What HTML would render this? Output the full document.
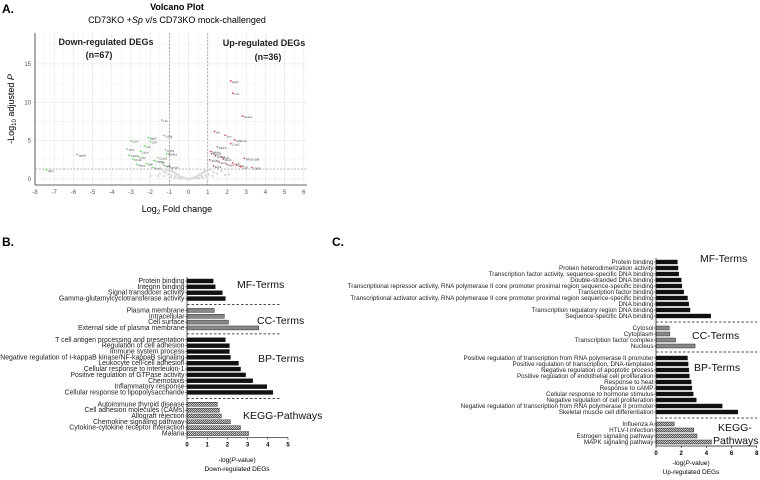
<!DOCTYPE html>
<html><head><meta charset="utf-8"><style>
body{margin:0;background:#fff}
svg{display:block;font-family:"Liberation Sans",Arial,sans-serif}
</style></head><body>
<svg id="fig" width="760" height="480" viewBox="0 0 760 480" xmlns="http://www.w3.org/2000/svg">
<g id="volc"></g>
<g id="panB"></g>
<g id="panC"></g>
</svg>
<script>
// ---- Volcano data ----
const upGenes=["Egr1","Fos","Dusp1","Hlx","Jun","Cdkn1a","Cxcl1","Slc16","Rbm3","Nr4a2","RP23-208","Zfp36","Ier2","Klf4","Atf3","Egr2","Ccl3","Cd83","Gm1","Ier3","Nfkbiz","Junb"];
const upX=[2.2,2.3,2.8,1.35,1.9,2.4,2.2,1.5,1.2,1.4,2.9,1.1,1.6,2.0,2.5,1.3,2.7,3.3,1.8,2.3,1.15,1.7];
const upY=[12.8,11.2,8.2,6.2,5.7,5.1,4.6,4.2,3.3,3.0,2.7,2.5,2.2,1.9,1.8,1.7,1.6,1.5,2.6,2.1,3.6,2.9];
const downGenes=["Ltb","Cd3g","Nkg7","Ccr7","Cd7","Lck","Tcf7","Ly6d","Igkv8","Ighv","Cd79","Ms4a1","Cd19","Cd2","Klrd1","Gzma","Il7r","Sell","Cd5","Fcer2a","Ptprc","Trbc2","Cxcr5"];
const downX=[-1.4,-1.3,-2.1,-3.0,-2.0,-2.3,-3.2,-2.5,-5.8,-7.4,-1.2,-1.15,-3.1,-2.6,-2.9,-1.8,-1.5,-2.2,-1.3,-1.1,-2.7,-1.9,-1.6];
const downY=[7.7,5.7,5.4,5.0,4.9,4.3,3.9,3.6,3.2,1.2,3.8,3.3,3.1,2.9,2.6,2.4,2.2,2.0,1.8,1.6,1.9,1.5,2.8];
const greyX=[-1.0,-0.9,-0.8,-0.7,-0.6,-0.5,-0.4,-0.3,-0.2,-0.1,0,0.1,0.2,0.3,0.4,0.5,0.6,0.7,0.8,0.9,1.0,-1.2,-1.1,-0.9,-0.7,-0.5,0.5,0.7,0.9,1.1,1.3,-1.5,-1.3,1.5,1.7,-0.95,-0.75,-0.55,0.55,0.75,0.95,-1.6,1.9,-2.0,2.1,-0.85,0.85,-0.65,0.65,-0.35,0.35,-1.05,1.05,-1.25,1.25,-0.45,0.45];
const greyY=[1.3,1.1,0.9,0.8,0.6,0.5,0.3,0.2,0.1,0.05,0,0.05,0.1,0.2,0.3,0.5,0.6,0.8,0.9,1.1,1.3,0.9,1.2,0.5,0.3,0.15,0.15,0.3,0.5,1.2,0.9,0.7,1.0,0.7,1.0,0.2,0.1,0.1,0.1,0.1,0.2,0.4,0.5,0.4,0.6,1.0,1.0,0.5,0.5,0.05,0.05,0.6,0.6,0.4,0.4,0.2,0.2];
const xTicks=[-8,-7,-6,-5,-4,-3,-2,-1,0,1,2,3,4,5,6];
const yTicks=[0,5,10,15];

// ---- Panel B data ----
const bCats=["Protein binding","Integrin binding","Signal transducer activity","Gamma-glutamylcyclotransferase activity","Plasma membrane","Intracellular","Cell surface","External side of plasma membrane","T cell antigen processing and presentation","Regulation of cell adhesion","Immune system process","Negative regulation of I-kappaB kinase/NF-kappaB signaling","Leukocyte cell-cell adhesion","Cellular response to interleukin-1","Positive regulation of GTPase activity","Chemotaxis","Inflammatory response","Cellular response to lipopolysaccharide","Autoimmune thyroid disease","Cell adhesion molecules (CAMs)","Allograft rejection","Chemokine signaling pathway","Cytokine-cytokine receptor interaction","Malaria"];
const bVals=[1.3,1.4,1.75,1.9,1.35,1.85,2.05,3.55,1.9,2.1,2.1,2.15,2.55,2.65,2.9,3.25,3.95,4.25,1.5,1.6,1.7,2.15,2.65,3.05];
const bGroups=[0,0,0,0,1,1,1,1,2,2,2,2,2,2,2,2,2,2,3,3,3,3,3,3];
const bTicks=[0,1,2,3,4,5];
// ---- Panel C data ----
const cCats=["Protein binding","Protein heterodimerization activity","Transcription factor activity, sequence-specific DNA binding","Double-stranded DNA binding","Transcriptional repressor activity, RNA polymerase II core promoter proximal region sequence-specific binding","Transcription factor binding","Transcriptional activator activity, RNA polymerase II core promoter proximal region sequence-specific binding","DNA binding","Transcription regulatory region DNA binding","Sequence-specific DNA binding","Cytosol","Cytoplasm","Transcription factor complex","Nucleus","Positive regulation of transcription from RNA polymerase II promoter","Positive regulation of transcription, DNA-templated","Negative regulation of apoptotic process","Positive regulation of endothelial cell proliferation","Response to heat","Response to cAMP","Cellular response to hormone stimulus","Negative regulation of cell proliferation","Negative regulation of transcription from RNA polymerase II promoter","Skeletal muscle cell differentiation","Influenza A","HTLV-I infection","Estrogen signaling pathway","MAPK signaling pathway"];
const cVals=[1.7,1.75,1.8,2.0,2.05,2.2,2.5,2.6,2.7,4.35,1.05,1.1,1.55,3.1,2.5,2.55,2.6,2.65,2.8,2.85,2.95,3.2,5.25,6.5,1.45,3.0,3.25,4.4];
const cGroups=[0,0,0,0,0,0,0,0,0,0,1,1,1,1,2,2,2,2,2,2,2,2,2,2,3,3,3,3];
const cTicks=[0,2,4,6,8];

const NS="http://www.w3.org/2000/svg";
function mk(parent,tag,attrs,text){const e=document.createElementNS(NS,tag);for(const k in attrs)e.setAttribute(k,attrs[k]);if(text!==undefined)e.textContent=text;parent.appendChild(e);return e;}
const svg=document.getElementById('fig');

let t;
t=mk(svg,'text',{x:2,y:13,'font-size':12,'font-weight':'bold'},'A.');


t=mk(svg,'text',{x:177,y:10,'font-size':9,'font-weight':'bold','text-anchor':'middle'},'Volcano Plot');


t=mk(svg,'text',{x:177,y:23,'font-size':9,'text-anchor':'middle'});


t.innerHTML='CD73KO +<tspan font-style="italic">Sp</tspan> v/s CD73KO mock-challenged';
t=mk(svg,'text',{x:2,y:246,'font-size':12,'font-weight':'bold'},'B.');


t=mk(svg,'text',{x:332,y:246,'font-size':12,'font-weight':'bold'},'C.');



// ---- Volcano ----
const V=document.getElementById('volc');
const vx=v=>35+(v+8)*19.2, vy=v=>179-v*7.67;
for(let g=-8;g<=6;g+=0.5){const l=mk(V,'line',{x1:vx(g),x2:vx(g),y1:33,y2:185,stroke:g%1===0?'#e4e4e4':'#f0f0f0','stroke-width':0.6});

}
for(let g=0;g<=17.5;g+=2.5){const l=mk(V,'line',{x1:35,x2:307,y1:vy(g),y2:vy(g),stroke:g%5===0?'#e4e4e4':'#f0f0f0','stroke-width':0.6});

}
let ax=mk(V,'line',{x1:35,x2:35,y1:33,y2:185,stroke:'#333','stroke-width':0.8});


ax=mk(V,'line',{x1:35,x2:307,y1:185,y2:185,stroke:'#333','stroke-width':0.8});


xTicks.forEach(v=>{const tk=mk(V,'text',{x:vx(v),y:194,'font-size':6,fill:'#555','text-anchor':'middle'},String(v));

});
yTicks.forEach(v=>{const tk=mk(V,'text',{x:31,y:vy(v)+2,'font-size':6,fill:'#555','text-anchor':'end'},String(v));

});
[-1,1].forEach(v=>{const l=mk(V,'line',{x1:vx(v),x2:vx(v),y1:33,y2:185,stroke:'#666','stroke-width':0.5,'stroke-dasharray':'2,1.5'});

});
let hl=mk(V,'line',{x1:35,x2:307,y1:vy(1.3),y2:vy(1.3),stroke:'#666','stroke-width':0.5,'stroke-dasharray':'2,1.5'});


greyX.forEach((x,i)=>{const c=mk(V,'circle',{cx:vx(x),cy:vy(greyY[i]),r:1.3,fill:'#dcdcdc'});

});
downX.forEach((x,i)=>{const c=mk(V,'circle',{cx:vx(x),cy:vy(downY[i]),r:0.8,fill:'#3ddc3d'});


const l=mk(V,'text',{x:vx(x)+1.5,y:vy(downY[i])+2,'font-size':3,fill:'#444'},downGenes[i]);

});
upX.forEach((x,i)=>{const c=mk(V,'circle',{cx:vx(x),cy:vy(upY[i]),r:0.8,fill:'#e03030'});


const l=mk(V,'text',{x:vx(x)+1.5,y:vy(upY[i])+2,'font-size':3,fill:'#444'},upGenes[i]);

});
[['Down-regulated DEGs',106,45],['(n=67)',99,58],['Up-regulated DEGs',264,46],['(n=36)',268,60]].forEach(a=>{const l=mk(V,'text',{x:a[1],y:a[2],'font-size':9,'font-weight':'bold','text-anchor':'middle',fill:'#222'},a[0]);

});
let xl=mk(V,'text',{x:177,y:212,'font-size':9,'text-anchor':'middle'});


xl.innerHTML='Log<tspan font-size="6" dy="2">2</tspan><tspan dy="-2"> Fold change</tspan>';
let yl=mk(V,'text',{x:0,y:0,'font-size':9,'text-anchor':'middle',transform:'translate(14,109) rotate(-90)'});


yl.innerHTML='-Log<tspan font-size="6" dy="2">10</tspan><tspan dy="-2"> adjusted </tspan><tspan font-style="italic">P</tspan>';

const defs=mk(svg,'defs',{});
const pat=mk(defs,'pattern',{id:'hatch',width:2,height:2,patternUnits:'userSpaceOnUse'});
mk(pat,'rect',{width:2,height:2,fill:'#ddd'});
mk(pat,'path',{d:'M0,2 L2,0',stroke:'#333','stroke-width':0.7});

function barPanel(G,cats,vals,groups,ticks,o){
  const sx=v=>o.x0+v*o.ppu;
  const rowY=[];let y=o.y0;
  cats.forEach((c,i)=>{if(i>0&&groups[i]!==groups[i-1])y+=o.gap;rowY.push(y);y+=o.step;});
  const fills=['#111','#888','#111','url(#hatch)'];
  cats.forEach((c,i)=>{
    const r=mk(G,'rect',{x:sx(0),y:rowY[i]-2,width:sx(vals[i])-sx(0),height:4,fill:fills[groups[i]],stroke:'#111','stroke-width':0.4});
    
    
    const tk=mk(G,'line',{x1:sx(0)-2,x2:sx(0),y1:rowY[i],y2:rowY[i],stroke:'#111','stroke-width':0.5});
    
    
    const l=mk(G,'text',{x:sx(0)-2.5,y:rowY[i]+2,'font-size':o.fs,'text-anchor':'end',fill:'#222'},c);
    
    
  });
  for(let i=1;i<cats.length;i++){if(groups[i]!==groups[i-1]){const yy=(rowY[i]+rowY[i-1])/2;
    const d=mk(G,'line',{x1:sx(0),x2:o.dashEnd,y1:yy,y2:yy,stroke:'#111','stroke-width':0.7,'stroke-dasharray':'2.5,2'});
    
    }}
  const top=rowY[0]-4, bot=rowY[rowY.length-1]+4;
  let a=mk(G,'line',{x1:sx(0),x2:sx(0),y1:top,y2:bot,stroke:'#111','stroke-width':0.7});
  
  
  a=mk(G,'line',{x1:sx(0),x2:sx(ticks[ticks.length-1]),y1:bot,y2:bot,stroke:'#111','stroke-width':0.7});
  
  
  ticks.forEach(v=>{const l=mk(G,'line',{x1:sx(v),x2:sx(v),y1:bot,y2:bot+2,stroke:'#111','stroke-width':0.6});
    
    
    const tt=mk(G,'text',{x:sx(v),y:bot+9,'font-size':6,'font-weight':'bold','text-anchor':'middle'},String(v));
    
    });
  o.labels.forEach(s=>{const l=mk(G,'text',{x:s[1],y:s[2],'font-size':10.5,fill:'#111'},s[0]);
    
    });
  let x1=mk(G,'text',{x:o.tx,y:o.ty,'font-size':6.5,'text-anchor':'middle'});
  
  
  x1.innerHTML='-log(<tspan font-style="italic">P</tspan>-value)';
  x1=mk(G,'text',{x:o.tx,y:o.ty+9,'font-size':6.5,'text-anchor':'middle'},o.sub);
  
  
}
barPanel(document.getElementById('panB'),bCats,bVals,bGroups,bTicks,{x0:187,ppu:20.2,y0:281,step:5.85,gap:6,fs:6.9,dashEnd:280,
 labels:[['MF-Terms',237,288],['CC-Terms',257,324],['BP-Terms',258,362],['KEGG-Pathways',243,419]],tx:237,ty:462,sub:'Down-regulated DEGs'});
barPanel(document.getElementById('panC'),cCats,cVals,cGroups,cTicks,{x0:656,ppu:12.6,y0:262,step:6,gap:6,fs:6.3,dashEnd:757,
 labels:[['MF-Terms',700,262],['CC-Terms',692,339],['BP-Terms',694,371],['KEGG-',718,431],['Pathways',713,444]],tx:691,ty:465,sub:'Up-regulated DEGs'});
</script>
</body></html>
